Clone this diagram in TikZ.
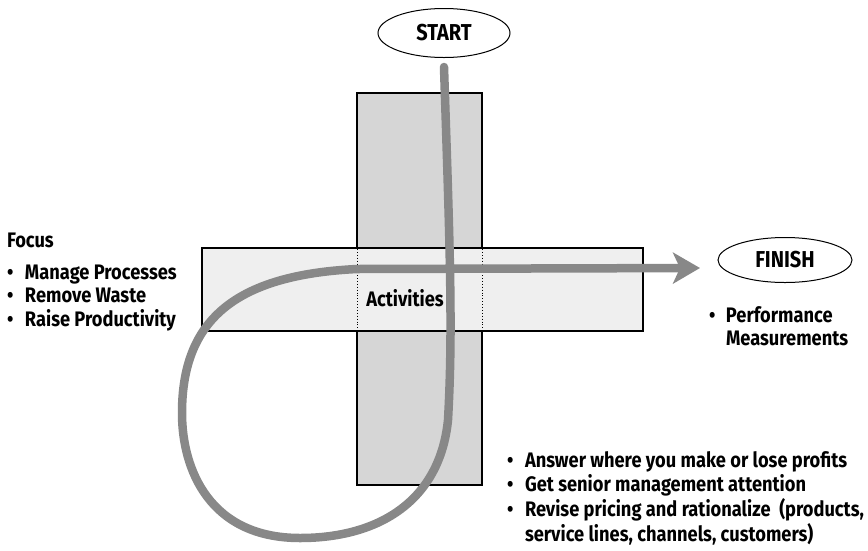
\documentclass[tikz,border=0pt]{standalone}
\usepackage{fontspec}
\setmainfont{Fira Sans}[FakeStretch=0.87]
\usetikzlibrary{shapes.geometric,arrows.meta}
\definecolor{c888888}{RGB}{136,136,136}
\definecolor{cd6d6d6}{RGB}{214,214,214}
\definecolor{cefefef}{RGB}{239,239,239}
\newcommand{\dotbox}[1]{\makebox[#1][l]{\textbullet}}

\begin{document}
\begin{tikzpicture}[y=1pt,x=1pt,yscale=-1, inner sep=0pt, outer sep=0pt,
  every node/.style={font=\fontsize{21}{23.5}\selectfont\bfseries}]
  \path[use as bounding box] (0,0) rectangle (868,550);
  % the two bars
  \path[draw=black,fill=cd6d6d6,line width=1.6pt] (357,93) rectangle (482,485);
  \path[draw=black,fill=cefefef,line width=1.6pt] (202,248) rectangle (643,331);
  \path[draw=black,dotted,line width=0.9pt] (357,249) -- (357,330);
  \path[draw=black,dotted,line width=0.9pt] (482,249) -- (482,330);
  % ellipses
  \path (444,33) node[draw=black,line width=1pt,ellipse,minimum width=132pt,
    minimum height=49pt,font=\fontsize{23}{24}\selectfont\bfseries] (ellipseStart) {START};
  \path (785,260) node[draw=black,line width=1pt,ellipse,minimum width=134pt,
    minimum height=45pt,font=\fontsize{23}{24}\selectfont\bfseries] (ellipseFinish) {FINISH};
  \path (405,298) node (textActivities) {Activities};
  % texts
  \path[fill=black] (7,247) node[anchor=base west] (textFocus)
    {\begin{tabular}[t]{@{}l@{}}Focus\\[8.5pt]
    \dotbox{18pt}Manage Processes\\ \dotbox{18pt}Remove Waste\\
    \dotbox{18pt}Raise Productivity\end{tabular}};
  \path[fill=black] (709,322) node[anchor=base west] (textPerformance)
    {\begin{tabular}[t]{@{}l@{}}\dotbox{17pt}Performance\\
    \hspace{17pt}Measurements\end{tabular}};
  \path[fill=black] (507,467) node[anchor=base west] (textAnswer)
    {\begin{tabular}[t]{@{}l@{}}\dotbox{18pt}Answer where you make or lose profits\\
    \dotbox{18pt}Get senior management attention\\
    \dotbox{18pt}Revise pricing and rationalize\ \ (products,\\
    \hspace{18pt}service lines, channels, customers)\end{tabular}};
  % the loop
  \coordinate (pathStart) at (444,67);
  \coordinate (arrowEnd) at (700,268);
  \path[draw=c888888,line width=8.5pt,line cap=round,
    -{Stealth[length=27pt,width=31pt,inset=7pt]}] (pathStart)
    .. controls (450,250) and (453,330) .. (448,420)
    .. controls (440,500) and (380,538) .. (300,538)
    .. controls (210,538) and (182,470) .. (182,413)
    .. controls (182,320) and (235,275) .. (357,269)
    -- (arrowEnd);

\end{tikzpicture}
\end{document}
